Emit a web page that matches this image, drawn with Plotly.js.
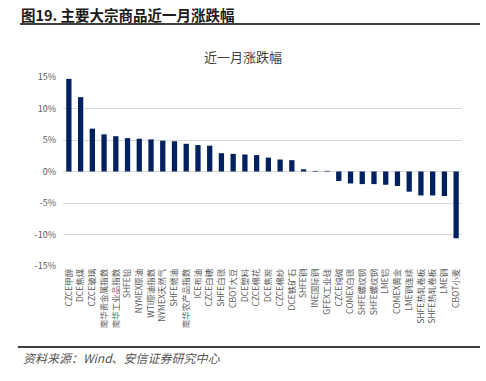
<!DOCTYPE html>
<html>
<head>
<meta charset="utf-8">
<script src="https://cdn.plot.ly/plotly-3.0.1.min.js"></script>
<style>
html,body{margin:0;padding:0;background:#fff;}
#chart{width:486px;height:381px;}
</style>
</head>
<body>
<div id="chart"></div>
<script>
const categories = ["CZCE甲醇","DCE焦煤","CZCE玻璃","南华贵金属指数","南华工业品指数","SHFE铅","NYMEX原油","WTI原油指数","NYMEX天然气","SHFE燃油","南华农产品指数","ICE布油","CZCE白糖","SHFE白银","CBOT大豆","DCE塑料","CZCE棉花","DCE焦炭","CZCE棉纱","DCE铁矿石","SHFE铜","INE国际铜","GFEX工业硅","CZCE纯碱","COMEX白银","SHFE螺纹钢","SHFE螺纹钢","LME铝","COMEX黄金","LME铜连续","SHFE热轧卷板","SHFE热轧卷板","LME铜","CBOT小麦"];
const values = [14.7,11.8,6.8,5.9,5.6,5.3,5.2,5.1,4.9,4.8,4.4,4.2,4.1,2.9,2.8,2.7,2.6,2.2,1.9,1.8,0.35,0.1,0.1,-1.5,-1.9,-2.0,-2.0,-2.1,-2.3,-3.2,-3.8,-3.8,-3.9,-10.6];
const yTicks = [-15,-10,-5,0,5,10,15];
const positions = categories.map((c,i)=>i);

const L=63,R=462,T=77,B=266;
const px=x=>(x-L)/(R-L);
const py=y=>(B-y)/(B-T);

Plotly.newPlot('chart',[{
  type:'bar',
  x:positions,
  y:values,
  marker:{color:'#002060'},
  width:0.45,
  hoverinfo:'skip'
}],{
  width:486,height:381,
  margin:{l:L,r:486-R,t:T,b:381-B,pad:0},
  paper_bgcolor:'#fff',plot_bgcolor:'#fff',
  showlegend:false,
  font:{family:'"Noto Sans CJK SC", "Noto Sans", sans-serif',color:'#595959'},
  title:{text:'近一月涨跌幅',font:{size:13,color:'#404040',family:'"Noto Sans CJK SC", sans-serif'},x:0.5,xanchor:'center',y:1-57/381,yref:'container',yanchor:'middle'},
  xaxis:{
    range:[-0.5,categories.length-0.5],
    tickmode:'array',tickvals:positions,ticktext:categories,
    tickangle:-90,tickfont:{size:8.5,color:'#595959'},
    showgrid:false,zeroline:false,showline:false,ticks:'',fixedrange:true,
    automargin:false
  },
  yaxis:{
    range:[-15,15],tickmode:'array',tickvals:yTicks,
    ticktext:yTicks.map(v=>v+'%'),
    tickfont:{size:9,color:'#595959'},
    gridcolor:'#d9d9d9',gridwidth:1,
    zeroline:true,zerolinecolor:'#d9d9d9',zerolinewidth:1,
    showline:false,ticks:'',ticklabelstandoff:6,automargin:false
  },
  shapes:[
    {type:'line',xref:'paper',yref:'paper',x0:px(20),x1:px(480),y0:py(24),y1:py(24),line:{color:'#000',width:1.5}},
    {type:'line',xref:'paper',yref:'paper',x0:px(18),x1:px(480),y0:py(347),y1:py(347),line:{color:'#000',width:1.5}}
  ],
  annotations:[
    {text:'<b>图19. 主要大宗商品近一月涨跌幅</b>',xref:'paper',yref:'paper',x:px(19),y:py(14),xanchor:'left',yanchor:'middle',showarrow:false,font:{size:14.5,color:'#1a1a1a',family:'"Noto Sans CJK SC", sans-serif'}},
    {text:'<i>资料来源：Wind、安信证券研究中心</i>',xref:'paper',yref:'paper',x:px(21),y:py(357),xanchor:'left',yanchor:'middle',showarrow:false,font:{size:12,color:'#555',family:'"Noto Sans CJK SC", sans-serif'}}
  ]
},{displayModeBar:false,staticPlot:true});
</script>
</body>
</html>
